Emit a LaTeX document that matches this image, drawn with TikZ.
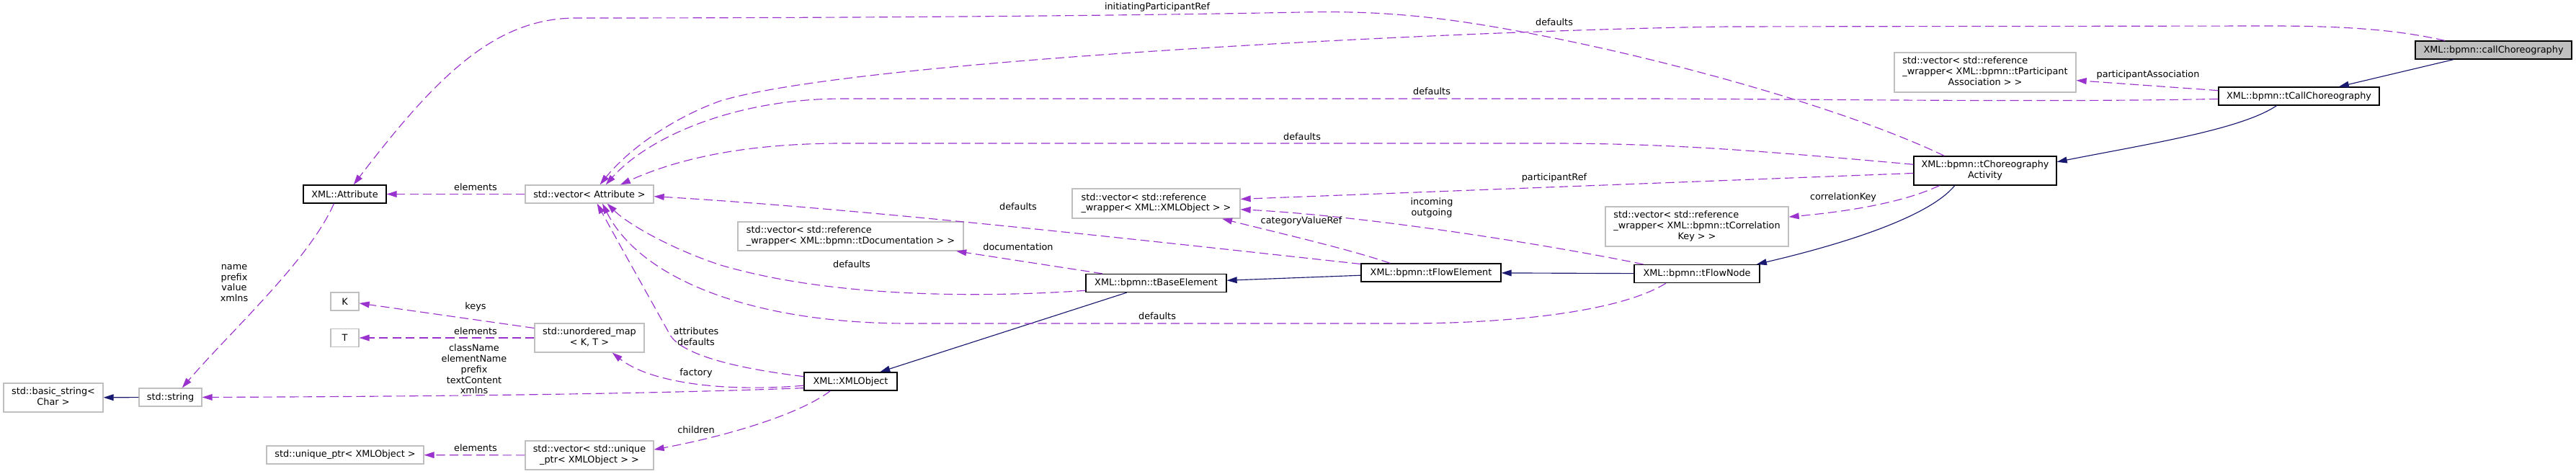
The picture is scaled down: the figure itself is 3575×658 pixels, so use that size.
\documentclass[tikz,border=0pt]{standalone}
\usepackage{fontspec}
\setmainfont{DejaVu Sans}
\usetikzlibrary{arrows.meta}

\definecolor{usecol}{HTML}{9A32CD}
\definecolor{inhcol}{HTML}{191970}
\definecolor{extcol}{HTML}{BFBFBF}
\newcommand{\dxfont}{\fontsize{7.3pt}{8.4pt}\selectfont}
% all lines left, the last one centred
\newcommand{\dxlines}[2]{\begin{tabular}{@{}l@{}}#1\\\multicolumn{1}{@{}c@{}}{#2}\end{tabular}}

\begin{document}
\begin{tikzpicture}[
    x = 0.02cm, y = -0.02cm, % one unit = one pixel of the graph
    font = \dxfont,
    > = {Triangle[length=8pt,width=5pt]}, % arrow head style
    semithick
    ]

    \tikzset{
    cls/.style = {draw = black, line width = 0.7pt, fill = white,
        inner sep = 0pt, minimum height = 0.5cm, align = center},
    ext/.style = {cls, draw = extcol},
    lbl/.style = {inner sep = 0pt, align = center},
    uses/.style = {->, usecol, line width = 0.65pt, dash pattern = on 7pt off 3.5pt},
    inherits/.style = {->, inhcol, line width = 0.65pt}
    }

    \useasboundingbox (0,0) rectangle (3575,658);

    % classes
    \node[cls, fill = extcol, minimum width = 4.34cm] (cc) at (3460.5,69.5) {XML::bpmn::callChoreography};
    \node[cls, minimum width = 4.46cm] (tcc) at (3190.5,133.5) {XML::bpmn::tCallChoreography};
    \node[ext, minimum width = 5.04cm, minimum height = 1.1cm] (pa) at (2755,100.5)
        {\dxlines{std::vector< std::reference\\\_wrapper< XML::bpmn::tParticipant}{Association > >}};
    \node[cls, minimum width = 3.96cm, minimum height = 0.8cm] (tca) at (2755,237)
        {\dxlines{XML::bpmn::tChoreography}{Activity}};
    \node[ext, minimum width = 5.08cm, minimum height = 1.1cm] (ck) at (2355,314.5)
        {\dxlines{std::vector< std::reference\\\_wrapper< XML::bpmn::tCorrelation}{Key > >}};
    \node[cls, minimum width = 3.48cm] (tfn) at (2355,380) {XML::bpmn::tFlowNode};
    \node[cls, minimum width = 3.88cm] (tfe) at (1986,378.5) {XML::bpmn::tFlowElement};
    \node[ext, minimum width = 4.66cm, minimum height = 0.82cm] (vro) at (1604.5,282.5)
        {\dxlines{std::vector< std::reference}{\_wrapper< XML::XMLObject > >}};
    \node[cls, minimum width = 3.9cm] (tbe) at (1604.5,393) {XML::bpmn::tBaseElement};
    \node[ext, minimum width = 6.26cm, minimum height = 0.8cm] (vdoc) at (1180.5,328)
        {\dxlines{std::vector< std::reference}{\_wrapper< XML::bpmn::tDocumentation > >}};
    \node[cls, minimum width = 2.58cm] (xo) at (1180.5,529.5) {XML::XMLObject};
    \node[ext, minimum width = 3.56cm] (va) at (818,269.5) {std::vector< Attribute >};
    \node[cls, minimum width = 2.3cm] (attr) at (478.5,269.5) {XML::Attribute};
    \node[ext, minimum width = 3.04cm, minimum height = 0.8cm] (um) at (818,469)
        {\dxlines{std::unordered\_map}{< K, T >}};
    \node[ext, minimum width = 0.78cm] (K) at (478.5,418.5) {K};
    \node[ext, minimum width = 0.78cm] (T) at (478.5,469) {T};
    \node[ext, minimum width = 3.56cm, minimum height = 0.8cm] (vup) at (818,632)
        {\dxlines{std::vector< std::unique}{\_ptr< XMLObject > >}};
    \node[ext, minimum width = 4.36cm] (up) at (479,631.5) {std::unique\_ptr< XMLObject >};
    \node[ext, minimum width = 1.74cm] (str) at (236.5,551.5) {std::string};
    \node[ext, minimum width = 2.76cm, minimum height = 0.8cm] (bs) at (74,552)
        {\dxlines{std::basic\_string<}{Char >}};

    % inheritance
    \draw[inherits] (cc) -- (tcc);
    \draw[inherits] (tcc.203) .. controls (3110,180) and (2980,200) .. (tca.7);
    \draw[inherits] (tca.206) .. controls (2670,310) and (2510,350) .. (tfn.9);
    \draw[inherits] (tfn) -- (tfe);
    \draw[inherits] (tfe) -- (tbe);
    \draw[inherits] (tbe) -- (xo);
    \draw[inherits] (str) -- (bs);

    % members
    \draw[uses] (tca.160) .. controls (2560,150) and (2300,78) .. (2100,42)
        .. controls (1980,20) and (1900,15) .. (1805,17)
        .. controls (1660,20) and (1300,25) .. (800,25)
        .. controls (690,25) and (610,100) .. (attr.47);
    \draw[uses] (cc.169) .. controls (3330,42) and (3260,36) .. (3150,36) -- (2400,37)
        .. controls (2100,40) and (1200,80) .. (1000,140)
        .. controls (930,165) and (870,210) .. (va.42);
    \draw[uses] (tcc.182) .. controls (2850,142) and (2550,138) .. (2300,137) -- (1170,137)
        .. controls (1020,137) and (900,190) .. (va.30);
    \draw[uses] (tca.175) .. controls (2450,210) and (2320,199) .. (2150,199) -- (1170,199)
        .. controls (1020,199) and (930,225) .. (va.17);
    \draw[uses] (tca.182) -- (vro.3);
    \draw[uses] (tca.198) .. controls (2640,282) and (2560,294) .. (ck.6);
    \draw[uses] (tcc.176) -- (pa.355);
    \draw[uses] (tfe.173) .. controls (1600,335) and (1200,290) .. (va.358);
    \draw[uses] (tfe.167) .. controls (1870,345) and (1760,320) .. (vro.347);
    \draw[uses] (tfn.170) .. controls (2150,340) and (1900,300) .. (vro.356);
    \draw[uses] (tbe.170) -- (vdoc.352);
    \draw[uses] (tbe.186) .. controls (1350,414) and (1150,412) .. (1000,368)
        .. controls (930,345) and (870,310) .. (va.332);
    \draw[uses] (tfn.197) .. controls (2250,432) and (2100,449) .. (1950,449) -- (1260,449)
        .. controls (1050,449) and (890,390) .. (va.324);
    \draw[uses] (xo.174) .. controls (1010,510) and (945,490) .. (930,465)
        .. controls (905,420) and (860,340) .. (va.309);
    \draw[uses] (xo.185) .. controls (1000,545) and (900,530) .. (um.327);
    \draw[uses] (xo.188) .. controls (950,545) and (700,550) .. (str.east);
    \draw[uses] (xo.205) .. controls (1110,575) and (1010,605) .. (vup.5);
    \draw[uses] (vup) -- (up);
    \draw[uses] (um.170) -- (K.353);
    \draw[uses] (um) -- (T);
    \draw[uses] (va) -- (attr);
    \draw[uses] (attr.221) .. controls (430,360) and (320,460) .. (str.39);

    % member names
    \node[lbl] (l-init) at (1606,10) {initiatingParticipantRef};
    \node[lbl] (l-defcc) at (2157,31) {defaults};
    \node[lbl] (l-deftcc) at (1987,127) {defaults};
    \node[lbl] (l-deftca) at (1807,190) {defaults};
    \node[lbl] (l-pref) at (2157,247) {participantRef};
    \node[lbl] (l-pass) at (2981,104) {participantAssociation};
    \node[lbl] (l-ckey) at (2558,274) {correlationKey};
    \node[lbl] (l-inout) at (1987,288.5) {incoming\\outgoing};
    \node[lbl] (l-cat) at (1806,307) {categoryValueRef};
    \node[lbl] (l-deftfe) at (1413,287) {defaults};
    \node[lbl] (l-doc) at (1413,343) {documentation};
    \node[lbl] (l-deftbe) at (1182,367) {defaults};
    \node[lbl] (l-deftfn) at (1606,439) {defaults};
    \node[lbl] (l-attrs) at (966,467) {attributes\\defaults};
    \node[lbl] (l-fact) at (966,518) {factory};
    \node[lbl] (l-child) at (966,597) {children};
    \node[lbl] (l-names) at (658,512.5) {className\\elementName\\prefix\\textContent\\xmlns};
    \node[lbl] (l-elva) at (660,260) {elements};
    \node[lbl] (l-keys) at (660,426) {keys};
    \node[lbl] (l-elum) at (660,460) {elements};
    \node[lbl] (l-elvup) at (660,622) {elements};
    \node[lbl] (l-attrnames) at (325,393) {name\\prefix\\value\\xmlns};
\end{tikzpicture}
\end{document}
